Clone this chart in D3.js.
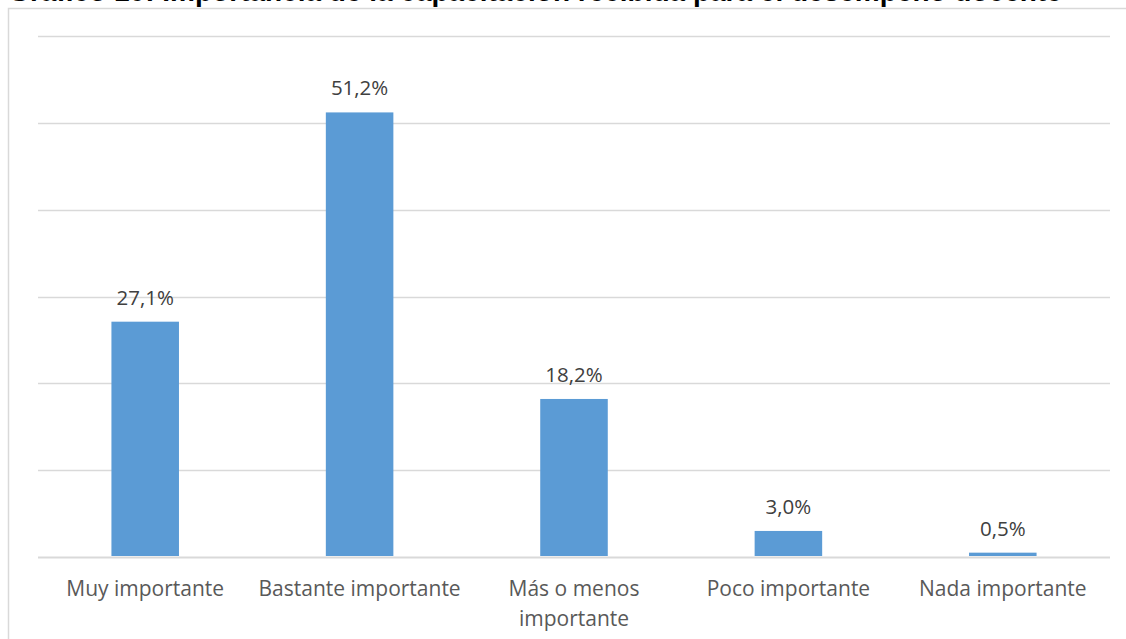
<!DOCTYPE html>
<html>
<head>
<meta charset="utf-8">
<script src="https://cdn.jsdelivr.net/npm/d3@7"></script>
<style>
  html, body { margin: 0; padding: 0; background: #fff; overflow: hidden; }
  svg { display: block; }
</style>
</head>
<body>
<svg id="chart" width="1126" height="639"></svg>
<script>
// Survey results: importance of the training received for teaching performance
const titleText = "Gráfico 10: Importancia de la capacitación recibida para el desempeño docente";
const categories = [
  ["Muy importante"],
  ["Bastante importante"],
  ["Más o menos", "importante"],
  ["Poco importante"],
  ["Nada importante"]
];
const values = [27.1, 51.2, 18.2, 3.0, 0.5];
const gridTicks = [0, 10, 20, 30, 40, 50, 60];

const W = 1126, H = 639;
const plot = { left: 38, right: 1110, top: 36, bottom: 557 };

const svg = d3.select("#chart");

// Chart frame (extends beyond the visible area on the right and bottom)
svg.append("rect")
  .attr("x", 8.5).attr("y", 8.5)
  .attr("width", W + 20).attr("height", H + 20)
  .attr("fill", "#fff")
  .attr("stroke", "#d9d9d9")
  .attr("stroke-width", 1.5);

// Title, partly above the top edge
svg.append("text")
  .attr("x", 535).attr("y", 1)
  .attr("text-anchor", "middle")
  .attr("font-family", "Liberation Sans, Arial, sans-serif")
  .attr("font-weight", "bold")
  .attr("font-size", 28)
  .attr("fill", "#000")
  .text(titleText);

const x = d3.scaleBand()
  .domain(d3.range(categories.length))
  .range([plot.left, plot.right])
  .paddingInner(0.685)
  .paddingOuter(0.3425);

const y = d3.scaleLinear()
  .domain([0, 60])
  .range([plot.bottom, plot.top]);

// Horizontal gridlines
svg.append("g")
  .selectAll("line")
  .data(gridTicks)
  .join("line")
  .attr("x1", plot.left).attr("x2", plot.right)
  .attr("y1", d => Math.round(y(d)) + 0.5)
  .attr("y2", d => Math.round(y(d)) + 0.5)
  .attr("stroke", "#d9d9d9")
  .attr("stroke-width", d => d === 0 ? 2 : 1.3);

// Bars
svg.append("g")
  .selectAll("rect")
  .data(values)
  .join("rect")
  .attr("x", (d, i) => x(i))
  .attr("width", x.bandwidth())
  .attr("y", d => y(d))
  .attr("height", d => y(0) - y(d) - 1)
  .attr("fill", "#5b9bd5");

// Value labels
const fmt = v => v.toFixed(1).replace(".", ",") + "%";
svg.append("g")
  .selectAll("text")
  .data(values)
  .join("text")
  .attr("x", (d, i) => x(i) + x.bandwidth() / 2)
  .attr("y", d => y(d) - 17)
  .attr("text-anchor", "middle")
  .attr("font-family", "Open Sans, sans-serif")
  .attr("font-size", 20.5)
  .attr("fill", "#404040")
  .text(fmt);

// Category labels
const cat = svg.append("g")
  .selectAll("text")
  .data(categories)
  .join("text")
  .attr("x", (d, i) => x(i) + x.bandwidth() / 2)
  .attr("y", 596)
  .attr("text-anchor", "middle")
  .attr("font-family", "Open Sans, sans-serif")
  .attr("font-size", 21)
  .attr("fill", "#595959");
cat.each(function(lines, i) {
  const t = d3.select(this);
  lines.forEach((ln, k) => {
    t.append("tspan")
      .attr("x", x(i) + x.bandwidth() / 2)
      .attr("dy", k === 0 ? 0 : 30)
      .text(ln);
  });
});
</script>
</body>
</html>
